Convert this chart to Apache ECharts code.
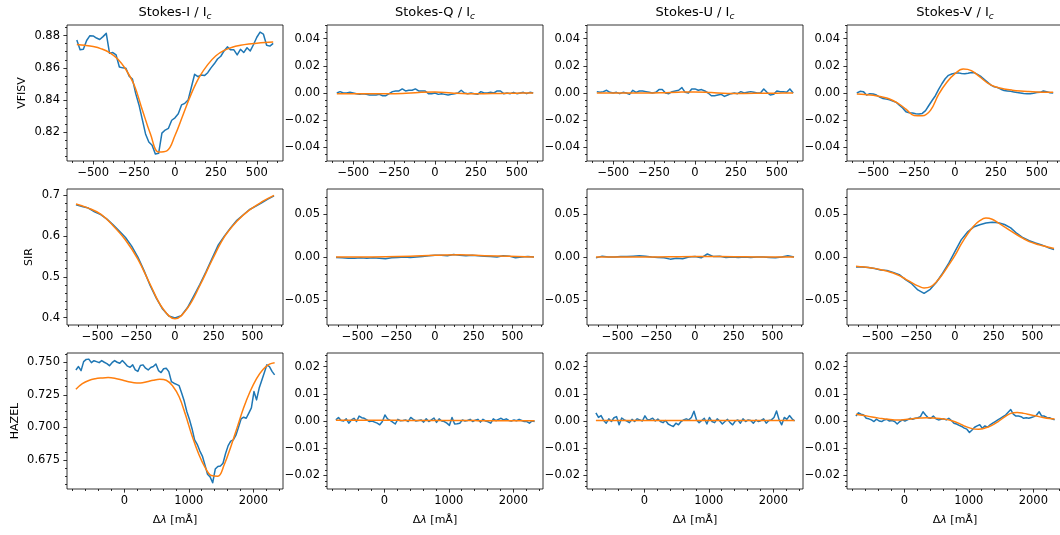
<!DOCTYPE html>
<html><head><meta charset="utf-8">
<script src="https://cdn.jsdelivr.net/npm/echarts@6/dist/echarts.min.js"></script>
<style>html,body{margin:0;padding:0;background:#fff}#c{width:1060px;height:535px}</style>
</head><body><div id="c"></div><script>
// ---------------- DATA ----------------
const colTitles = ['Stokes-I', 'Stokes-Q', 'Stokes-U', 'Stokes-V'];
const rowLabels = ['VFISV', 'SIR', 'HAZEL'];
const xTicksLine = [-500, -250, 0, 250, 500];
const xTicksHazel = [0, 1000, 2000];
const yTicksVfI = [0.82, 0.84, 0.86, 0.88];
const yTicksVfPol = [-0.04, -0.02, 0, 0.02, 0.04];
const yTicksSirI = [0.4, 0.5, 0.6, 0.7];
const yTicksSirPol = [-0.05, 0, 0.05];
const yTicksHzI = [0.675, 0.7, 0.725, 0.75];
const yTicksHzPol = [-0.02, -0.01, 0, 0.01, 0.02];

// VFISV: observed sampled from -600 step 20 mÅ
const vfI_obs = [0.8773,0.8712,0.8715,0.8770,0.8800,0.8798,0.8785,0.8776,0.8794,0.8814,
 0.8690,0.8695,0.8680,0.8605,0.8600,0.8598,0.8548,0.8530,0.8440,0.8370,
 0.8280,0.8190,0.8140,0.8120,0.8065,0.8070,0.8195,0.8214,0.8225,0.8275,
 0.8290,0.8315,0.8370,0.8380,0.8400,0.8480,0.8560,0.8545,0.8556,0.8552,
 0.8570,0.8600,0.8625,0.8655,0.8672,0.8705,0.8730,0.8712,0.8712,0.8680,
 0.8715,0.8695,0.8725,0.8705,0.8745,0.8790,0.8822,0.8810,0.8740,0.8735,
 0.8752];
const vfQ_obs = [0.0000,0.0010,0.0000,0.0000,0.0005,0.0000,-0.0005,-0.0010,-0.0005,-0.0010,
 -0.0015,-0.0015,-0.0015,-0.0010,-0.0020,-0.0020,-0.0005,0.0010,0.0015,0.0015,
 0.0030,0.0015,0.0020,0.0020,0.0030,0.0015,0.0015,0.0015,-0.0005,-0.0005,
 0.0000,-0.0010,-0.0005,-0.0010,-0.0015,-0.0010,-0.0005,0.0000,0.0020,0.0000,
 -0.0005,0.0000,-0.0005,-0.0010,0.0010,0.0000,0.0000,0.0005,0.0000,0.0015,
 0.0015,-0.0005,0.0000,-0.0005,0.0005,-0.0005,0.0000,0.0005,-0.0005,0.0005,
 0.0000];
const vfU_obs = [0.0010,0.0005,0.0010,0.0020,0.0005,0.0000,0.0005,-0.0005,0.0005,0.0000,
 -0.0010,0.0020,0.0005,0.0015,0.0015,0.0010,0.0005,0.0000,0.0005,0.0025,
 0.0025,0.0000,-0.0005,0.0010,0.0015,0.0020,0.0040,0.0005,0.0000,0.0030,
 0.0030,0.0020,0.0025,0.0015,0.0000,-0.0020,-0.0020,-0.0015,-0.0010,-0.0025,
 -0.0015,-0.0005,0.0000,-0.0005,0.0010,0.0000,0.0005,0.0010,0.0005,0.0000,
 0.0000,0.0030,0.0005,-0.0015,-0.0010,0.0015,0.0010,0.0010,0.0005,0.0030,
 0.0000];
const vfV_obs = [0.0000,0.0012,0.0010,-0.0015,-0.0005,-0.0007,-0.0015,-0.0030,-0.0040,-0.0045,
 -0.0050,-0.0060,-0.0068,-0.0090,-0.0110,-0.0138,-0.0145,-0.0147,-0.0152,-0.0155,
 -0.0150,-0.0130,-0.0092,-0.0055,-0.0020,0.0026,0.0068,0.0105,0.0130,0.0140,
 0.0145,0.0148,0.0144,0.0142,0.0145,0.0150,0.0148,0.0135,0.0120,0.0098,
 0.0078,0.0058,0.0045,0.0040,0.0028,0.0018,0.0015,0.0012,0.0008,0.0003,
 0.0000,-0.0003,-0.0005,-0.0005,-0.0002,0.0003,0.0005,0.0015,0.0010,0.0002,
 0.0000];
// VFISV fits
const vfI_fit = [0.8745,0.8740,0.8732,0.8718,0.8695,0.8655,0.8590,0.8495,0.8340,0.8190,0.8078,0.8085,0.8180,
 0.8310,0.8440,0.8545,0.8620,0.8675,0.8708,0.8728,0.8740,0.8748,0.8753,0.8757,0.8760]; // step 50
const vfQ_fit = [-0.0005,-0.0005,-0.0005,-0.0006,-0.0004,0.0004,0.0008,0.0000,-0.0006,-0.0005,-0.0003,-0.0001,0.0000]; // step 100
const vfU_fit = [0.0000,0.0000,0.0000,0.0000,0.0002,0.0006,0.0008,0.0003,-0.0003,-0.0003,-0.0002,-0.0001,0.0000]; // step 100
const vfV_fit = [-0.0007,-0.0011,-0.0017,-0.0028,-0.0044,-0.0075,-0.0118,-0.0165,-0.0168,-0.0128,-0.0010,0.0079,0.0142,
 0.0176,0.0165,0.0120,0.0073,0.0044,0.0030,0.0021,0.0015,0.0011,0.0008,0.0006,0.0005]; // step 50

// SIR: observed sampled from -640 step 40
const sirI_obs = [0.676,0.672,0.668,0.659,0.652,0.641,0.627,0.612,0.596,0.575,
 0.548,0.515,0.478,0.447,0.421,0.404,0.399,0.405,0.424,0.452,
 0.481,0.512,0.545,0.578,0.600,0.620,0.638,0.651,0.664,0.672,
 0.681,0.690,0.698];
const sirQ_obs = [-0.0005,-0.0010,-0.0015,-0.0015,-0.0010,-0.0015,-0.0010,-0.0015,-0.0020,-0.0010,
 -0.0005,0.0000,-0.0005,0.0000,0.0005,0.0015,0.0020,0.0020,0.0015,0.0030,
 0.0020,0.0015,0.0020,0.0015,0.0010,0.0005,0.0000,0.0015,0.0010,-0.0010,
 0.0000,0.0005,0.0000];
const sirU_obs = [-0.0010,0.0010,0.0000,0.0000,0.0005,0.0005,0.0010,0.0015,0.0010,0.0000,
 -0.0005,-0.0010,-0.0025,-0.0015,-0.0020,0.0000,0.0005,-0.0010,0.0035,0.0005,
 0.0010,-0.0005,0.0000,-0.0005,0.0000,-0.0005,0.0000,0.0000,-0.0005,-0.0010,
 0.0000,0.0015,0.0000];
const sirV_obs = [-0.0117,-0.0118,-0.0122,-0.0135,-0.0152,-0.0158,-0.0180,-0.0206,-0.0265,-0.0312,
 -0.0385,-0.0425,-0.0378,-0.0295,-0.0190,-0.0072,0.0065,0.0200,0.0290,0.0350,
 0.0377,0.0397,0.0405,0.0400,0.0380,0.0340,0.0275,0.0225,0.0190,0.0163,
 0.0140,0.0112,0.0086];
const sirI_fit = [0.678,0.668,0.653,0.625,0.590,0.543,0.481,0.423,0.397,0.423,0.478,0.541,0.598,0.636,0.663,0.683,0.699]; // step 80
const sirQ_fit = [0.0000,0.0000,0.0003,0.0010,0.0020,0.0025,0.0015,0.0008,0.0000]; // step 160
const sirU_fit = [0.0000,0.0000,0.0000,0.0002,0.0005,0.0005,0.0002,0.0000,0.0000]; // step 160
const sirV_fit = [-0.0109,-0.0115,-0.0122,-0.0133,-0.0148,-0.0165,-0.0187,-0.0218,-0.0258,-0.0300,
 -0.0337,-0.0362,-0.0350,-0.0290,-0.0200,-0.0092,0.0019,0.0150,0.0265,0.0360,
 0.0425,0.0455,0.0442,0.0400,0.0353,0.0305,0.0260,0.0218,0.0180,0.0155,
 0.0135,0.0117,0.0100]; // step 40

// HAZEL: observed sampled from -750 step 40
const hzI_obs = [0.7441,0.7467,0.7436,0.7505,0.7522,0.7524,0.7497,0.7512,0.7505,0.7497,
 0.7513,0.7500,0.7490,0.7474,0.7497,0.7513,0.7500,0.7492,0.7513,0.7492,
 0.7470,0.7462,0.7480,0.7441,0.7430,0.7475,0.7480,0.7454,0.7441,0.7460,
 0.7467,0.7487,0.7436,0.7421,0.7450,0.7454,0.7428,0.7352,0.7339,0.7330,
 0.7320,0.7262,0.7200,0.7120,0.7060,0.6990,0.6904,0.6870,0.6820,0.6780,
 0.6712,0.6640,0.6620,0.6575,0.6680,0.6700,0.6704,0.6725,0.6800,0.6860,
 0.6895,0.6904,0.6940,0.7000,0.7065,0.7078,0.7070,0.7110,0.7150,0.7275,
 0.7211,0.7300,0.7360,0.7420,0.7480,0.7467,0.7430,0.7403];
const hzQ_obs = [0.0004,0.0013,0.0002,0.0000,0.0008,-0.0008,0.0004,0.0010,-0.0002,0.0018,
 0.0012,0.0010,0.0004,-0.0002,0.0000,-0.0004,-0.0008,-0.0014,-0.0002,0.0022,
 0.0008,0.0002,-0.0004,-0.0011,0.0006,0.0001,0.0002,0.0004,-0.0002,0.0013,
 0.0006,0.0000,0.0002,0.0004,-0.0004,0.0008,-0.0002,0.0004,0.0011,-0.0005,
 0.0008,0.0000,-0.0002,-0.0008,-0.0016,0.0013,-0.0011,-0.0010,-0.0008,0.0004,
 0.0000,0.0002,0.0006,-0.0002,0.0003,0.0006,-0.0004,0.0006,0.0000,-0.0003,
 -0.0008,0.0008,0.0001,0.0006,0.0010,0.0004,0.0008,0.0002,0.0000,0.0004,
 0.0001,0.0006,0.0002,-0.0002,-0.0002,-0.0008,0.0000,-0.0002];
const hzU_obs = [0.0030,0.0013,0.0020,0.0002,-0.0008,0.0008,-0.0002,0.0012,0.0016,-0.0014,
 0.0011,0.0004,0.0000,-0.0006,0.0006,-0.0002,0.0008,0.0004,0.0000,0.0019,
 0.0004,0.0006,0.0010,0.0000,0.0007,-0.0002,-0.0006,0.0002,-0.0011,-0.0016,
 -0.0020,-0.0008,-0.0014,-0.0002,0.0004,0.0008,0.0004,0.0013,0.0036,0.0004,
 -0.0006,0.0002,0.0010,-0.0011,0.0013,-0.0002,-0.0006,0.0008,0.0000,-0.0011,
 -0.0002,0.0006,-0.0006,-0.0014,0.0000,0.0004,-0.0008,0.0008,-0.0002,0.0004,
 0.0002,-0.0008,0.0004,-0.0002,0.0002,0.0008,-0.0008,0.0002,0.0004,0.0013,
 0.0037,0.0004,-0.0014,0.0013,0.0006,0.0020,0.0008,0.0000];
const hzV_obs = [0.0018,0.0030,0.0025,0.0022,0.0010,0.0008,0.0004,-0.0002,0.0007,0.0000,
 -0.0002,0.0004,0.0006,0.0000,0.0002,-0.0002,-0.0011,-0.0002,0.0004,0.0000,
 0.0004,0.0010,0.0006,0.0010,0.0012,0.0016,0.0034,0.0022,0.0012,0.0010,
 0.0018,0.0008,0.0004,0.0006,0.0008,0.0004,0.0010,0.0002,-0.0008,-0.0011,
 -0.0016,-0.0020,-0.0026,-0.0030,-0.0042,-0.0033,-0.0023,-0.0018,-0.0014,-0.0027,
 -0.0018,-0.0023,-0.0014,-0.0008,-0.0002,0.0004,0.0010,0.0016,0.0022,0.0032,
 0.0042,0.0025,0.0018,0.0018,0.0016,0.0010,0.0012,0.0010,0.0013,0.0016,
 0.0022,0.0034,0.0018,0.0018,0.0013,0.0012,0.0008,0.0004];
const hzFitX = [-750,-650,-550,-450,-350,-250,-150,-50,50,150,250,350,450,550,650,750,
 850,950,1050,1150,1250,1350,1450,1550,1650,1750,1850,1950,2050,2150,2250,2330];
const hzI_fit = [0.7293,0.7335,0.7360,0.7373,0.7379,0.7382,0.7377,0.7365,0.7352,0.7343,0.7341,0.7350,0.7362,0.7369,0.7362,0.7318,
 0.7235,0.7095,0.6935,0.6800,0.6695,0.6630,0.6625,0.6715,0.6850,0.7000,0.7150,0.7275,0.7375,0.7445,0.7485,0.7497];
const hzQ_fit = [0.0003,0.0003,0.0003,0.0003,0.0003,0.0003,0.0003,0.0003,0.0003,0.0003,0.0002,0.0002,0.0002,0.0002,0.0002,0.0002,
 0.0002,0.0002,0.0002,0.0002,0.0002,0.0002,0.0001,0.0001,0.0001,0.0001,0.0001,0.0001,0.0001,0.0001,0.0001,0.0001];
const hzU_fit = [0.0002,0.0002,0.0002,0.0002,0.0002,0.0002,0.0002,0.0002,0.0002,0.0002,0.0002,0.0002,0.0002,0.0002,0.0002,0.0002,
 0.0002,0.0002,0.0002,0.0002,0.0002,0.0002,0.0002,0.0002,0.0002,0.0002,0.0002,0.0002,0.0002,0.0002,0.0002,0.0002];
const hzV_fit = [0.0025,0.0021,0.0017,0.0013,0.0009,0.0006,0.0004,0.0004,0.0006,0.0009,0.0011,0.0012,0.0011,0.0009,0.0006,0.0000,
 -0.0009,-0.0020,-0.0028,-0.0030,-0.0026,-0.0017,-0.0003,0.0014,0.0028,0.0031,0.0028,0.0023,0.0018,0.0013,0.0009,0.0007];

// ---------------- LAYOUT ----------------
const FF = 'DejaVu Sans';
const BLUE = '#1f77b4', ORANGE = '#ff7f0e';
const GL = [67, 327, 587, 847], GT = [25, 189, 353], GW = 216, GH = 136;
const xRange = [[-660, 660], [-698, 698], [-888, 2460]];
const xMajor = [xTicksLine, xTicksLine, xTicksHazel];
const xMinorStep = [62.5, 62.5, 200];
const yNameGap = [39, 32, 46];
const TICK_FS = 11.5;

function seq(start, step, n) { const a = []; for (let i = 0; i < n; i++) a.push(start + i * step); return a; }
function pairs(xs, ys) { return ys.map((v, i) => [xs[i], v]); }
function minors(min, max, step, majors) {
  const out = [];
  const k0 = Math.ceil(min / step - 1e-9), k1 = Math.floor(max / step + 1e-9);
  for (let k = k0; k <= k1; k++) {
    const v = +(k * step).toFixed(10);
    if (!majors.some(m => Math.abs(m - v) < step * 1e-3)) out.push(v);
  }
  return out;
}
function fmt(dec) { return v => (v < -1e-12 ? '\u2212' : '') + Math.abs(v).toFixed(dec); }

const vfX = n => seq(-600, 20, n), sirX = n => seq(-640, 40, n), hzX = n => seq(-750, 40, n);
const panels = [
  [ {o: pairs(vfX(61), vfI_obs), f: pairs(seq(-600, 50, 25), vfI_fit), y: [0.8022, 0.8866, yTicksVfI, 0.005, 2]},
    {o: pairs(vfX(61), vfQ_obs), f: pairs(seq(-600, 100, 13), vfQ_fit), y: [-0.05, 0.05, yTicksVfPol, 0.005, 2]},
    {o: pairs(vfX(61), vfU_obs), f: pairs(seq(-600, 100, 13), vfU_fit), y: [-0.05, 0.05, yTicksVfPol, 0.005, 2]},
    {o: pairs(vfX(61), vfV_obs), f: pairs(seq(-600, 50, 25), vfV_fit), y: [-0.05, 0.05, yTicksVfPol, 0.005, 2]} ],
  [ {o: pairs(sirX(33), sirI_obs), f: pairs(seq(-640, 80, 17), sirI_fit), y: [0.382, 0.7147, yTicksSirI, 0.02, 1]},
    {o: pairs(sirX(33), sirQ_obs), f: pairs(seq(-640, 160, 9), sirQ_fit), y: [-0.0795, 0.0795, yTicksSirPol, 0.01, 2]},
    {o: pairs(sirX(33), sirU_obs), f: pairs(seq(-640, 160, 9), sirU_fit), y: [-0.0795, 0.0795, yTicksSirPol, 0.01, 2]},
    {o: pairs(sirX(33), sirV_obs), f: pairs(seq(-640, 40, 33), sirV_fit), y: [-0.0795, 0.0795, yTicksSirPol, 0.01, 2]} ],
  [ {o: pairs(hzX(78), hzI_obs), f: pairs(hzFitX, hzI_fit), y: [0.6527, 0.7571, yTicksHzI, 0.00625, 3]},
    {o: pairs(hzX(78), hzQ_obs), f: pairs(hzFitX, hzQ_fit), y: [-0.025, 0.025, yTicksHzPol, 0.002, 2]},
    {o: pairs(hzX(78), hzU_obs), f: pairs(hzFitX, hzU_fit), y: [-0.025, 0.025, yTicksHzPol, 0.002, 2]},
    {o: pairs(hzX(78), hzV_obs), f: pairs(hzFitX, hzV_fit), y: [-0.025, 0.025, yTicksHzPol, 0.002, 2]} ]
];

const grids = [], xAxes = [], yAxes = [], series = [];
const tickLine = {color: '#000', width: 0.8};
const lblStyle = {color: '#000', fontSize: TICK_FS, fontFamily: FF};
const noLine = {show: false, onZero: false};
panels.forEach((row, r) => row.forEach((p, c) => {
  const gi = grids.length;
  grids.push({left: GL[c], top: GT[r], width: GW, height: GH, show: true, borderColor: '#000', borderWidth: 0.8,
    backgroundColor: 'rgba(0,0,0,0)', containLabel: false, outerBoundsMode: 'none'});
  const [xmin, xmax] = xRange[r];
  const xm = xMajor[r];
  const xMain = {type: 'value', gridIndex: gi, min: xmin, max: xmax, position: 'bottom',
    axisLine: noLine, splitLine: {show: false},
    axisTick: {show: true, inside: false, length: 3.6, lineStyle: tickLine, customValues: xm},
    axisLabel: {show: true, customValues: xm, formatter: fmt(0), margin: 6.5, ...lblStyle}};
  if (r === 2) {
    xMain.name = '{n|\u0394}{i|\u03bb}{n| [m\u00c5]}';
    xMain.nameLocation = 'middle';
    xMain.nameGap = 26;
    xMain.nameTextStyle = {color: '#000', fontSize: 11, fontFamily: FF,
      rich: {n: {color: '#000', fontSize: 11, fontFamily: FF}, i: {color: '#000', fontSize: 11, fontFamily: FF, fontStyle: 'italic'}}};
  }
  xAxes.push(xMain);
  xAxes.push({type: 'value', gridIndex: gi, min: xmin, max: xmax, position: 'bottom',
    axisLine: noLine, splitLine: {show: false}, axisLabel: {show: false},
    axisTick: {show: true, inside: false, length: 2, lineStyle: tickLine, customValues: minors(xmin, xmax, xMinorStep[r], xm)}});
  const [ymin, ymax, ym, ystep, ydec] = p.y;
  const yMain = {type: 'value', gridIndex: gi, min: ymin, max: ymax, position: 'left',
    axisLine: noLine, splitLine: {show: false},
    axisTick: {show: true, inside: false, length: 3.6, lineStyle: tickLine, customValues: ym},
    axisLabel: {show: true, customValues: ym, formatter: fmt(ydec), margin: 7, ...lblStyle}};
  if (c === 0) {
    yMain.name = rowLabels[r];
    yMain.nameLocation = 'middle';
    yMain.nameGap = yNameGap[r];
    yMain.nameTextStyle = {color: '#000', fontSize: 11, fontFamily: FF};
  }
  yAxes.push(yMain);
  yAxes.push({type: 'value', gridIndex: gi, min: ymin, max: ymax, position: 'left',
    axisLine: noLine, splitLine: {show: false}, axisLabel: {show: false},
    axisTick: {show: true, inside: false, length: 2, lineStyle: tickLine, customValues: minors(ymin, ymax, ystep, ym)}});
  const ai = 2 * gi;
  series.push({type: 'line', xAxisIndex: ai, yAxisIndex: ai, data: p.o, showSymbol: false, symbol: 'none',
    smooth: false, lineStyle: {color: BLUE, width: 1.5, join: 'round'}, itemStyle: {color: BLUE}, silent: true, z: 2});
  series.push({type: 'line', xAxisIndex: ai, yAxisIndex: ai, data: p.f, showSymbol: false, symbol: 'none',
    smooth: 0.4, lineStyle: {color: ORANGE, width: 1.5, join: 'round'}, itemStyle: {color: ORANGE}, silent: true, z: 3});
}));

const titles = colTitles.map((t, c) => ({
  type: 'text', x: GL[c] + GW / 2, y: 12.5, silent: true,
  style: {text: '{a|' + t + ' / I}{b|c}', align: 'center', verticalAlign: 'middle',
    rich: {a: {fontSize: 13, fontFamily: FF, fill: '#000'},
           b: {fontSize: 9, fontFamily: FF, fontStyle: 'italic', fill: '#000', padding: [8, 0, 0, 0]}}}
}));

const chart = echarts.init(document.getElementById('c'), null, {renderer: 'canvas'});
chart.setOption({
  animation: false, backgroundColor: '#fff', textStyle: {fontFamily: FF},
  graphic: titles, grid: grids, xAxis: xAxes, yAxis: yAxes, series: series
});
</script></body></html>
